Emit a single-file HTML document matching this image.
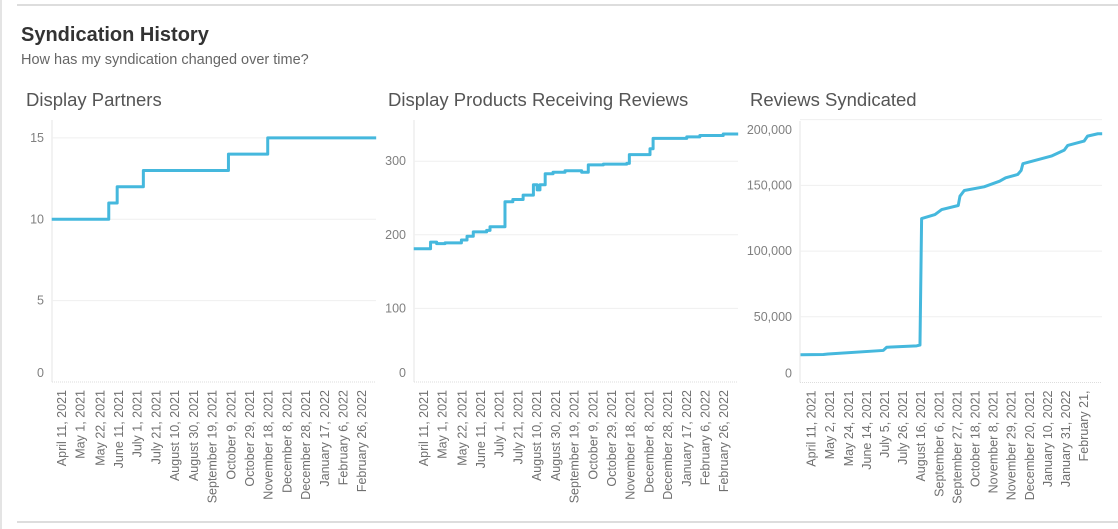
<!DOCTYPE html>
<html><head><meta charset="utf-8"><style>
body{margin:0;background:#fff;width:1118px;height:529px;overflow:hidden;font-family:"Liberation Sans",sans-serif}
svg{position:absolute;left:0;top:0}
</style></head><body>
<svg id="s" width="1118" height="529">
<line x1="1" y1="0" x2="1" y2="529" stroke="#e4e4e4" stroke-width="2"/>
<line x1="17" y1="5" x2="1118" y2="5" stroke="#bbb" stroke-width="1"/>
<line x1="17" y1="522" x2="1118" y2="522" stroke="#bbb" stroke-width="1"/>
<text x="21" y="41" font-size="20" font-weight="bold" fill="#333">Syndication History</text>
<text x="21" y="64" font-size="14.5" fill="#666">How has my syndication changed over time?</text>
<text x="26" y="106" font-size="18.5" fill="#555">Display Partners</text>
<text x="388" y="106" font-size="18.5" fill="#555">Display Products Receiving Reviews</text>
<text x="750" y="106" font-size="18.5" fill="#555">Reviews Syndicated</text>
</svg>
<script>
// Chart 1: Display Partners (x = days since April 11, 2021)
const p1Days=[-11,50,59,87,178,220,336];
const p1Vals=[10,11,12,13,14,15,15];
const p1Ticks=[0,5,10,15];
// Chart 2: Display Products Receiving Reviews
const p2Days=[-11,7,13.5,22.5,40,46,52.7,67,70.6,86.6,95,106,113,117,121,124,127,129.6,138,150.8,167,168.6,174,175.7,191.8,216.8,219.6,239.9,241.7,245,279,281,295,320,336];
const p2Vals=[181,190,188,189,193,198,204,206,211,245,248,254,254,268,261,268,268,283,285,287,287,285,285,295,296,297,309,309,317,331,331,333,335,337,337];
const p2Ticks=[0,100,200,300];
// Chart 3: Reviews Syndicated
const p3Days=[-13,13.5,19,83,87,121.8,125.6,127.5,143,150.8,170,172,177,200,218,225,239,243,245,278,293,297,316,320,332,337];
const p3Vals=[21100,21300,21700,24400,26800,27900,28500,124800,127800,131600,134700,141800,146100,148900,153200,155800,158300,161400,166500,172300,176800,180400,183700,187500,189300,189300];
const p3Ticks=[0,50000,100000,150000,200000];
const dateLabelsA=["April 11, 2021","May 1, 2021","May 22, 2021","June 11, 2021","July 1, 2021","July 21, 2021","August 10, 2021","August 30, 2021","September 19, 2021","October 9, 2021","October 29, 2021","November 18, 2021","December 8, 2021","December 28, 2021","January 17, 2022","February 6, 2022","February 26, 2022"];
const dateDaysA=[0,20,41,61,81,101,121,141,161,181,201,221,241,261,281,301,321];
const dateLabelsB=["April 11, 2021","May 2, 2021","May 24, 2021","June 14, 2021","July 5, 2021","July 26, 2021","August 16, 2021","September 6, 2021","September 27, 2021","October 18, 2021","November 8, 2021","November 29, 2021","December 20, 2021","January 10, 2022","January 31, 2022","February 21,"];
const dateDaysB=[0,21,43,64,85,106,127,148,169,190,211,232,253,274,295,316];

const NS="http://www.w3.org/2000/svg";
const svg=document.getElementById('s');
function mk(tag,attrs){const e=document.createElementNS(NS,tag);for(const k in attrs)e.setAttribute(k,attrs[k]);svg.appendChild(e);return e;}
function chart(c){
  const xs=d=>c.left+(d-c.d0)/(c.d1-c.d0)*(c.right-c.left);
  const ys=v=>c.bottom-(v-c.v0)/(c.v1-c.v0)*(c.bottom-c.top);
  const ax=mk('line',{x1:c.left,y1:c.top,x2:c.left,y2:c.bottom,stroke:'#e6e6e6'});
  
  
  const bx=mk('line',{x1:c.left,y1:c.bottom,x2:c.right,y2:c.bottom,stroke:'#ddd','stroke-dasharray':'1,1'});
  
  
  c.ticks.forEach(t=>{
    const y=ys(t);
    if(t>0){const g=mk('line',{x1:c.left,y1:y,x2:c.right,y2:y,stroke:'#efefef'});
      
      }
    const ty=Math.max(y+4,c.top+13);
    const lb=mk('text',{x:c.left-8,y:(t===0?y-5:ty),'font-size':'12.5','text-anchor':'end',fill:'#808080'});
    lb.textContent=t.toLocaleString('en-US');
    
    
  });
  c.dlabels.forEach((l,i)=>{
    const x=xs(c.ddays[i]);
    const tx=mk('text',{x:0,y:0,'font-size':'12.5','text-anchor':'end',fill:'#707070',transform:`translate(${x+4},${c.bottom+8}) rotate(-90)`});
    tx.textContent=l;
    
    
  });
  let d='';
  c.days.forEach((dd,i)=>{
    const x=xs(dd),y=ys(c.vals[i]);
    if(i===0)d+=`M${x},${y}`;else if(c.step){d+=`H${x}V${y}`;}else{d+=`L${x},${y}`;}
  });
  const p=mk('path',{d:d,fill:'none',stroke:'#45b8dd','stroke-width':'3','stroke-linejoin':'round'});
  
  
}
chart({name:'partners',step:true,left:52,right:376,top:120,bottom:382,d0:-10.7,d1:335.8,v0:0,v1:16.1,ticks:p1Ticks,days:p1Days,vals:p1Vals,dlabels:dateLabelsA,ddays:dateDaysA});
chart({name:'products',step:true,left:414,right:738,top:120,bottom:382,d0:-10.7,d1:335.8,v0:0,v1:356,ticks:p2Ticks,days:p2Days,vals:p2Vals,dlabels:dateLabelsA,ddays:dateDaysA});
chart({name:'reviews',step:false,left:800,right:1102,top:121,bottom:382.5,d0:-13.6,d1:336.8,v0:0,v1:199000,ticks:p3Ticks,days:p3Days,vals:p3Vals,dlabels:dateLabelsB,ddays:dateDaysB});
</script>
</body></html>
